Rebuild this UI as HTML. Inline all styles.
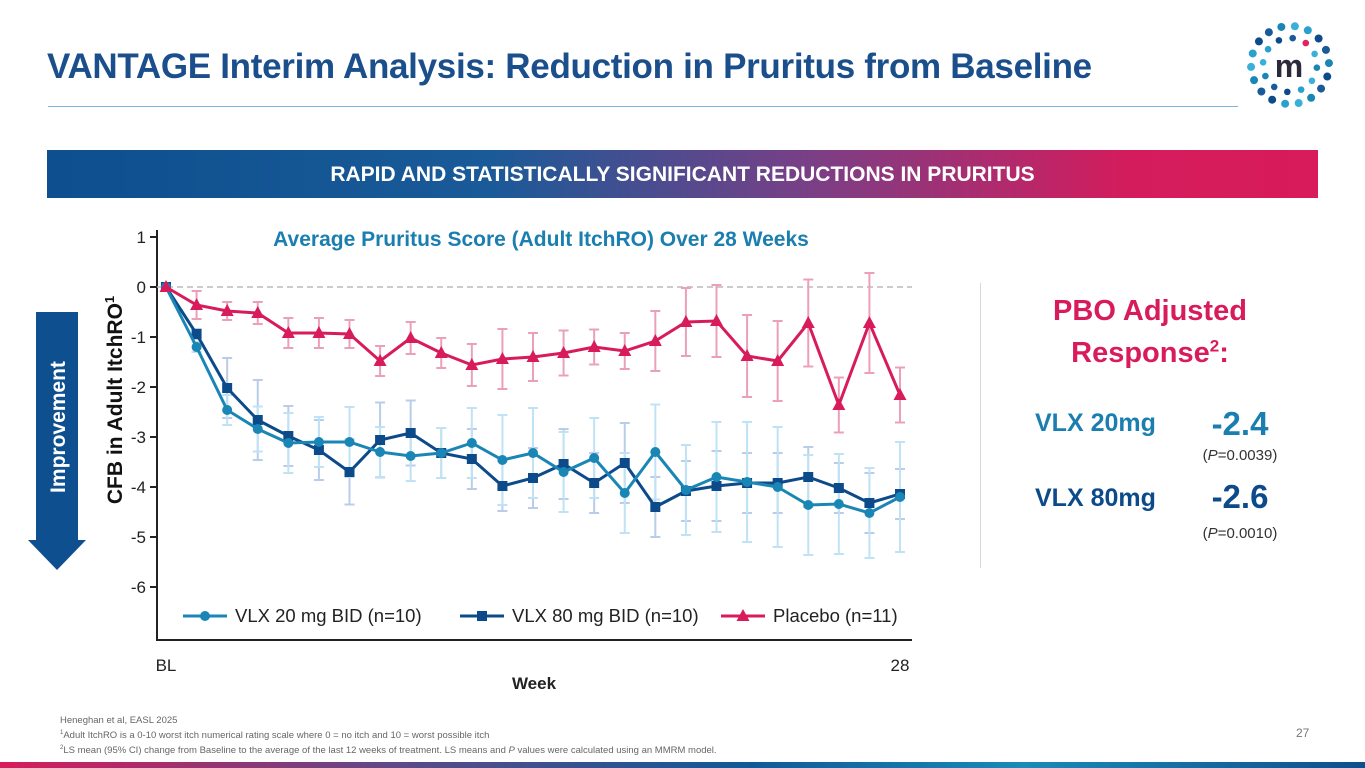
<!DOCTYPE html>
<html><head><meta charset="utf-8">
<style>
body{margin:0;width:1365px;height:768px;overflow:hidden;background:#fff;font-family:"Liberation Sans",sans-serif;position:relative}
.abs{position:absolute}
</style></head>
<body>
<div class="abs" style="left:47px;top:47px;font-size:35px;font-weight:bold;color:#1b4f8c;letter-spacing:-0.3px;white-space:nowrap">VANTAGE Interim Analysis: Reduction in Pruritus from Baseline</div>
<div class="abs" style="left:48px;top:106px;width:1190px;height:1px;background:#7fb5d8"></div>
<svg class="abs" style="left:1245px;top:22px" width="90" height="86" viewBox="0 0 90 86">
<g id="dots"></g>
<text x="44" y="55" font-family="Liberation Sans" font-weight="bold" font-size="32" fill="#2a2a3a" text-anchor="middle">m</text>
</svg>
<div class="abs" style="left:47px;top:150px;width:1271px;height:48px;background:linear-gradient(90deg,#0d4f8f 0%,#1a5a98 35%,#7a3f86 60%,#d41c5c 85%,#d81b5a 100%);color:#fff;font-weight:bold;font-size:21px;text-align:center;line-height:49px;white-space:nowrap">RAPID AND STATISTICALLY SIGNIFICANT REDUCTIONS IN PRURITUS</div>

<svg class="abs" style="left:28px;top:312px" width="60" height="262">
<path d="M8 0 H50 V228 H58 L29 258 L0 228 H8 Z" fill="#0d4f8f"/>
<text transform="translate(37,115) rotate(-90)" text-anchor="middle" font-family="Liberation Sans" font-size="21" font-weight="bold" fill="#fff">Improvement</text>
</svg>

<svg class="abs" id="chart" style="left:0;top:0" width="960" height="700"></svg>

<div class="abs" style="left:980px;top:283px;width:1px;height:285px;background:#d8d8d8"></div>
<div class="abs" style="left:1020px;top:290px;width:260px;text-align:center;font-size:29px;font-weight:bold;color:#d81b5a;line-height:42px">PBO Adjusted<br>Response<sup style="font-size:17px;line-height:0">2</sup>:</div>
<div class="abs" style="left:1035px;top:409px;font-size:25px;font-weight:bold;color:#1a7fb0">VLX 20mg</div>
<div class="abs" style="left:1190px;top:405px;width:100px;text-align:center;font-size:33px;font-weight:bold;color:#1a7fb0">-2.4</div>
<div class="abs" style="left:1190px;top:447px;width:100px;text-align:center;font-size:15px;color:#333">(<i>P</i>=0.0039)</div>
<div class="abs" style="left:1035px;top:484px;font-size:25px;font-weight:bold;color:#0d4a8a">VLX 80mg</div>
<div class="abs" style="left:1190px;top:478px;width:100px;text-align:center;font-size:33px;font-weight:bold;color:#0d4a8a">-2.6</div>
<div class="abs" style="left:1190px;top:525px;width:100px;text-align:center;font-size:15px;color:#333">(<i>P</i>=0.0010)</div>

<div class="abs" style="left:60px;top:714px;font-size:9.5px;color:#666;line-height:13px">Heneghan et al, EASL 2025<br><sup style="font-size:6px">1</sup>Adult ItchRO is a 0-10 worst itch numerical rating scale where 0 = no itch and 10 = worst possible itch<br><sup style="font-size:6px">2</sup>LS mean (95% CI) change from Baseline to the average of the last 12 weeks of treatment. LS means and <i>P</i> values were calculated using an MMRM model.</div>
<div class="abs" style="left:1296px;top:726px;font-size:12px;color:#777">27</div>
<div class="abs" style="left:0;top:762px;width:1365px;height:6px;background:linear-gradient(90deg,#d81b5a 0%,#5a4a8a 30%,#0d5a9a 55%,#1a8ab8 75%,#0d4f8f 100%)"></div>

<script>
const weeks=[0,1,2,3,4,5,6,7,8,9,10,11,12,13,14,15,16,17,18,19,20,21,22,23,24];
const vlx20=[0,-1.2,-2.46,-2.84,-3.12,-3.1,-3.1,-3.3,-3.38,-3.32,-3.12,-3.46,-3.32,-3.7,-3.42,-4.12,-3.3,-4.06,-3.8,-3.9,-4.0,-4.36,-4.34,-4.52,-4.2];
const vlx20ci=[0,0.1,0.3,0.45,0.6,0.5,0.7,0.5,0.5,0.5,0.7,0.9,0.9,0.8,0.8,0.8,0.95,0.9,1.1,1.2,1.2,1.0,1.0,0.9,1.1];
const vlx80=[0,-0.94,-2.02,-2.66,-2.98,-3.26,-3.7,-3.06,-2.92,-3.32,-3.44,-3.98,-3.82,-3.54,-3.92,-3.52,-4.4,-4.08,-3.98,-3.92,-3.92,-3.8,-4.02,-4.32,-4.14];
const vlx80ci=[0,0.1,0.6,0.8,0.6,0.6,0.65,0.75,0.65,0.5,0.6,0.5,0.6,0.7,0.6,0.8,0.6,0.6,0.7,0.6,0.6,0.6,0.5,0.6,0.5];
const placebo=[0,-0.36,-0.48,-0.52,-0.92,-0.92,-0.94,-1.48,-1.02,-1.32,-1.56,-1.44,-1.4,-1.32,-1.2,-1.28,-1.08,-0.7,-0.68,-1.38,-1.48,-0.72,-2.36,-0.72,-2.16];
const placeboci=[0,0.28,0.18,0.22,0.3,0.3,0.28,0.3,0.32,0.3,0.42,0.6,0.48,0.45,0.35,0.36,0.6,0.68,0.72,0.82,0.8,0.87,0.55,1.0,0.55];
const yTicks=[1,0,-1,-2,-3,-4,-5,-6];
const xTickLabels=["BL","28"];

const NS="http://www.w3.org/2000/svg";
const svg=document.getElementById('chart');
const xs=i=>166+i*(900-166)/(weeks.length-1);
const ys=v=>287-v*50;
function mk(tag,attrs,parent){const e=document.createElementNS(NS,tag);for(const k in attrs)e.setAttribute(k,attrs[k]);(parent||svg).appendChild(e);return e;}

let a=mk('line',{x1:157,y1:230,x2:157,y2:640,stroke:'#222','stroke-width':2});


a=mk('line',{x1:156,y1:640,x2:912,y2:640,stroke:'#222','stroke-width':2});


a=mk('line',{x1:157,y1:ys(0),x2:912,y2:ys(0),stroke:'#bbb','stroke-width':1.5,'stroke-dasharray':'6,4'});


yTicks.forEach(t=>{
  const l=mk('line',{x1:150,y1:ys(t),x2:157,y2:ys(t),stroke:'#222','stroke-width':2});
  
  
  const tx=mk('text',{x:146,y:ys(t)+6,'text-anchor':'end','font-size':17,fill:'#222','font-family':'Liberation Sans'});
  tx.textContent=t;
  
  
});
[[0,xTickLabels[0]],[weeks.length-1,xTickLabels[1]]].forEach(([i,lab])=>{
  const tx=mk('text',{x:xs(i),y:671,'text-anchor':'middle','font-size':17,fill:'#222','font-family':'Liberation Sans'});
  tx.textContent=lab;
  
  
});
let t=mk('text',{x:534,y:689,'text-anchor':'middle','font-size':17,'font-weight':'bold',fill:'#222','font-family':'Liberation Sans'});
t.textContent='Week';


t=mk('text',{x:541,y:246,'text-anchor':'middle','font-size':21,'font-weight':'bold',fill:'#1a7fb0','font-family':'Liberation Sans'});
t.textContent='Average Pruritus Score (Adult ItchRO) Over 28 Weeks';


t=mk('text',{transform:'translate(122,400) rotate(-90)','text-anchor':'middle','font-size':21,'font-weight':'bold',fill:'#111','font-family':'Liberation Sans'});
t.innerHTML='CFB in Adult ItchRO<tspan font-size="13" dy="-8">1</tspan>';



const series=[
 {vals:vlx80,ci:vlx80ci,color:'#0d4a8a',ec:'#b9cdea',shape:'square',name:'vlx80'},
 {vals:vlx20,ci:vlx20ci,color:'#1a86b5',ec:'#bfe3f5',shape:'circle',name:'vlx20'},
 {vals:placebo,ci:placeboci,color:'#d81b5a',ec:'#eca0b8',shape:'tri',name:'placebo'}
];
series.forEach(s=>{
  s.vals.forEach((v,i)=>{
    if(!s.ci[i])return;
    const x=xs(i),y1=ys(v+s.ci[i]),y2=ys(v-s.ci[i]);
    const g=mk('g',{stroke:s.ec,'stroke-width':2});
    
    
    mk('line',{x1:x,y1:y1,x2:x,y2:y2},g);
    mk('line',{x1:x-5,y1:y1,x2:x+5,y2:y1},g);
    mk('line',{x1:x-5,y1:y2,x2:x+5,y2:y2},g);
  });
});
function marker(shape,x,y,c,parent){
  if(shape==='circle')return mk('circle',{cx:x,cy:y,r:5,fill:c},parent);
  if(shape==='square')return mk('rect',{x:x-5,y:y-5,width:10,height:10,fill:c},parent);
  return mk('path',{d:`M${x} ${y-7} L${x+6.5} ${y+5} L${x-6.5} ${y+5} Z`,fill:c},parent);
}
series.forEach(s=>{
  const p=mk('polyline',{points:s.vals.map((v,i)=>xs(i)+','+ys(v)).join(' '),fill:'none',stroke:s.color,'stroke-width':3});
  
  
  s.vals.forEach((v,i)=>{
    const m=marker(s.shape,xs(i),ys(v),s.color);
    
    
  });
});
const leg=[['circle','#1a86b5','VLX 20 mg BID (n=10)',183],['square','#0d4a8a','VLX 80 mg BID (n=10)',460],['tri','#d81b5a','Placebo (n=11)',721]];
leg.forEach(([sh,c,lab,x])=>{
  const g=mk('g',{});
  
  
  mk('line',{x1:x,y1:616,x2:x+44,y2:616,stroke:c,'stroke-width':3},g);
  marker(sh,x+22,616,c,g);
  const tx=mk('text',{x:x+52,y:622,'font-size':18.5,fill:'#222','font-family':'Liberation Sans'},g);
  tx.textContent=lab;
});
const dg=document.getElementById('dots');
const cols=['#0d4a8a','#1a86b5','#2aa0d0','#1a5a98','#3ab0d8'];
[[39,18,0.3,4],[27,12,0.1,3.3]].forEach(([r,n,off,sz],k)=>{
  for(let i=0;i<n;i++){
    const an=(i/n)*Math.PI*2+off;
    const c=document.createElementNS(NS,'circle');
    c.setAttribute('cx',45+Math.cos(an)*r);
    c.setAttribute('cy',43+Math.sin(an)*r);
    c.setAttribute('r',sz);
    c.setAttribute('fill',(k===1&&i===10)?'#e0245e':cols[(i*3+k)%5]);
    dg.appendChild(c);
  }
});
</script>
</body></html>
